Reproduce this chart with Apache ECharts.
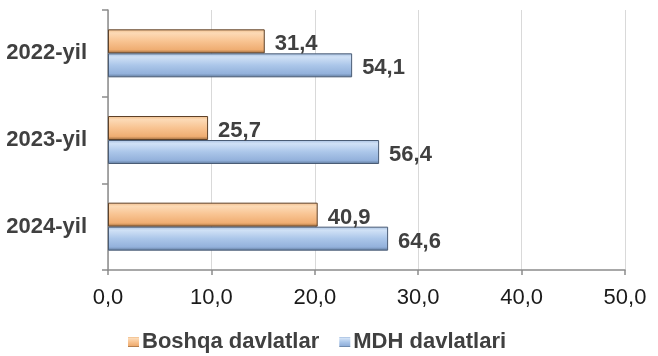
<!DOCTYPE html>
<html>
<head>
<meta charset="utf-8">
<script src="https://cdn.jsdelivr.net/npm/echarts@6/dist/echarts.min.js"></script>
<style>
html,body{margin:0;padding:0;background:#fff;}
#chart{width:658px;height:356px;}
</style>
</head>
<body>
<div id="chart"></div>
<script>
// Categories (top to bottom)
const categories = ['2022-yil', '2023-yil', '2024-yil'];
// Bar lengths as drawn against the x axis in the picture
const boshqaValues = [15.16, 9.68, 20.28];
const mdhValues = [23.61, 26.22, 27.09];
// Value labels printed next to the bars
const boshqaLabels = ['31,4', '25,7', '40,9'];
const mdhLabels = ['54,1', '56,4', '64,6'];
// Axis ticks
const xTicks = [0, 10, 20, 30, 40, 50];
const seriesNames = ['Boshqa davlatlar', 'MDH davlatlari'];

const chart = echarts.init(document.getElementById('chart'), null, {renderer: 'canvas'});

function grad(stops) {
  return new echarts.graphic.LinearGradient(0, 0, 0, 1,
    stops.map(s => ({offset: s[0], color: s[1]})));
}
const orangeFill = grad([[0, '#f0bd8a'], [0.15, '#fcdab6'], [0.5, '#f8c391'], [0.85, '#efad72'], [1, '#9a683a']]);
const blueFill = grad([[0, '#a6bfe0'], [0.15, '#d0e1f6'], [0.5, '#abc6e9'], [0.85, '#93b1db'], [1, '#5d7798']]);

const labelStyle = {
  show: true,
  position: 'right',
  distance: 10,
  offset: [0, 3],
  fontFamily: 'Liberation Sans, Arial, sans-serif',
  fontWeight: 'bold',
  fontSize: 22,
  color: '#404040'
};

chart.setOption({
  animation: false,
  grid: {left: 108, right: 33, top: 10, bottom: 86, containLabel: false},
  legend: {
    data: seriesNames,
    left: 123,
    bottom: -2,
    icon: 'rect',
    itemWidth: 11,
    itemHeight: 10,
    itemGap: 20,
    itemStyle: {borderWidth: 0},
    textStyle: {
      fontFamily: 'Liberation Sans, Arial, sans-serif',
      fontWeight: 'bold',
      fontSize: 22,
      color: '#404040',
      padding: [0, 0, 0, -2]
    }
  },
  xAxis: {
    type: 'value',
    min: xTicks[0],
    max: xTicks[xTicks.length - 1],
    interval: xTicks[1] - xTicks[0],
    axisLine: {show: true, lineStyle: {color: '#8c8c8c', width: 1.5}},
    axisTick: {show: true, length: 5, lineStyle: {color: '#8c8c8c', width: 1.5}},
    splitLine: {show: true, lineStyle: {color: '#d9d9d9', width: 1}},
    axisLabel: {
      margin: 17,
      fontFamily: 'Liberation Sans, Arial, sans-serif',
      fontSize: 22,
      color: '#1a1a1a',
      formatter: v => v.toFixed(1).replace('.', ',')
    }
  },
  yAxis: {
    type: 'category',
    data: categories,
    inverse: true,
    axisLine: {show: true, lineStyle: {color: '#8c8c8c', width: 1.5}},
    axisTick: {show: true, length: 6, lineStyle: {color: '#8c8c8c', width: 1.5}},
    axisLabel: {
      margin: 21,
      fontFamily: 'Liberation Sans, Arial, sans-serif',
      fontWeight: 'bold',
      fontSize: 22,
      color: '#404040'
    }
  },
  series: [
    {
      name: seriesNames[0],
      type: 'bar',
      data: boshqaValues,
      barWidth: 24,
      barGap: '0%',
      itemStyle: {color: orangeFill, borderColor: '#5e4128', borderWidth: 1},
      label: Object.assign({}, labelStyle, {formatter: p => boshqaLabels[p.dataIndex]})
    },
    {
      name: seriesNames[1],
      type: 'bar',
      data: mdhValues,
      barWidth: 24,
      barGap: '0%',
      itemStyle: {color: blueFill, borderColor: '#4a5c75', borderWidth: 1},
      label: Object.assign({}, labelStyle, {formatter: p => mdhLabels[p.dataIndex]})
    }
  ]
});
</script>
</body>
</html>
